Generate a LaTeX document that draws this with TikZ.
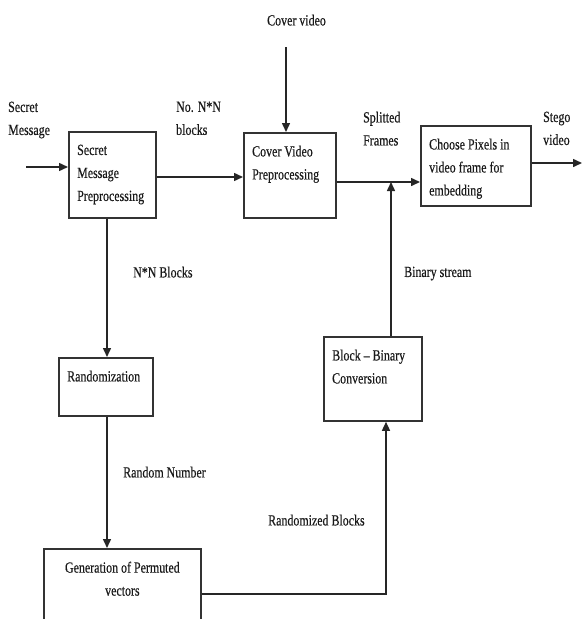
\documentclass[tikz,border=0pt]{standalone}
\usepackage{fontspec}
\setmainfont{Liberation Serif}[FakeStretch=0.77,FakeBold=0.4]
\usetikzlibrary{arrows.meta}

\begin{document}
\begin{tikzpicture}[x=1pt,y=-1pt,
    every node/.style={font=\fontsize{15.5}{23}\selectfont, text=black!90},
    blk/.style={draw=black!80, line width=1.8pt, anchor=north west, inner sep=0pt},
    intxt/.style={anchor=north west, align=left, inner xsep=9pt, inner ysep=13.5pt},
    midtxt/.style={anchor=north, align=center, inner ysep=13.5pt},
    lbl/.style={anchor=north west, align=left, inner sep=0pt},
    arr/.style={draw=black!85, line width=1.5pt, -{Triangle[length=9pt,width=8pt]}}]
  \useasboundingbox (0,0) rectangle (582,619);
  \clip (0,0) rectangle (582,619); %page edge cuts the last box

  % processing blocks
  \node[blk, minimum width=87pt, minimum height=86pt,
    label={[intxt]north west:{Secret\\Message\\Preprocessing}}] (smp) at (68,131) {};
  \node[blk, minimum width=92pt, minimum height=85pt,
    label={[intxt]north west:{Cover Video\\Preprocessing}}] (cv) at (243,132) {};
  \node[blk, minimum width=110pt, minimum height=80pt,
    label={[intxt]north west:{Choose Pixels in\\video frame for\\embedding}}] (choose) at (420,125) {};
  \node[blk, minimum width=94pt, minimum height=58pt,
    label={[intxt]north west:Randomization}] (rand) at (58,357) {};
  \node[blk, minimum width=98pt, minimum height=84pt,
    label={[intxt]north west:{Block -- Binary\\Conversion}}] (bb) at (323,336) {};
  \node[blk, minimum width=157pt, minimum height=100pt,
    label={[midtxt]north:{Generation of Permuted\\vectors}}] (gen) at (43,548) {};

  % free labels
  \node[lbl] (smsg) at (8,101.5) {Secret\\Message};
  \node[lbl] (nblk) at (176,101.5) {No. N*N\\blocks};
  \node[lbl] (cvtxt) at (267,14.5) {Cover video};
  \node[lbl] (sfr) at (363,111.5) {Splitted\\Frames};
  \node[lbl] (stg) at (543,111.5) {Stego\\video};
  \node[lbl] (nnb) at (133,266.5) {N*N Blocks};
  \node[lbl] (bst) at (404,266.5) {Binary stream};
  \node[lbl] (rnum) at (123,466.5) {Random Number};
  \node[lbl] (rblk) at (268,514.5) {Randomized Blocks};

  \coordinate (smin) at (26,167);
  \coordinate (cvin) at (286,47);
  \coordinate (join) at (391,182);
  \coordinate (sout) at (582,163);
  \coordinate (lx) at (107,0);
  \coordinate (rx) at (386,594);

  \draw[arr] (smin) -- (smin -| smp.west);
  \draw[arr] (smp.east |- 0,177) -- (cv.west |- 0,177);
  \draw[arr] (cvin) -- (cvin |- cv.north);
  \draw[arr] (cv.east |- join) -- (choose.west |- join);
  \draw[arr] (join |- bb.north) -- (join); %binary stream joins here
  \draw[arr] (choose.east |- sout) -- (sout);
  \draw[arr] (smp.south -| lx) -- (rand.north -| lx);
  \draw[arr] (rand.south -| lx) -- (gen.north -| lx);
  \draw[arr] (gen.east |- rx) -| (bb.south -| rx);
\end{tikzpicture}
\end{document}
